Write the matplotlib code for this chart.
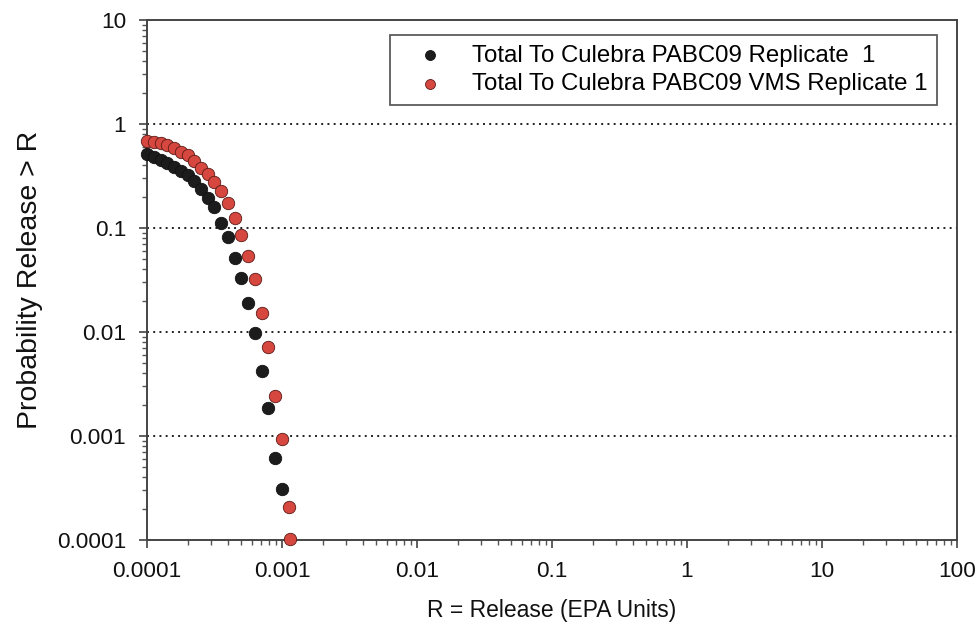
import matplotlib
matplotlib.use("Agg")
import matplotlib.pyplot as plt
from matplotlib.ticker import LogLocator, FixedLocator, FixedFormatter, NullFormatter

plt.rcParams['font.family'] = ['Liberation Sans', 'DejaVu Sans']

# Release values (EPA units) and exceedance probabilities
black_x = [1.00e-4, 1.12e-4, 1.26e-4, 1.41e-4, 1.58e-4, 1.78e-4, 2.00e-4, 2.24e-4,
           2.51e-4, 2.82e-4, 3.16e-4, 3.55e-4, 3.98e-4, 4.47e-4, 5.01e-4, 5.62e-4,
           6.31e-4, 7.08e-4, 7.94e-4, 8.91e-4, 1.00e-3]
black_y = [0.520, 0.482, 0.451, 0.421, 0.386, 0.353, 0.324, 0.283,
           0.237, 0.194, 0.159, 0.112, 0.0818, 0.0515, 0.0330, 0.0190,
           0.00977, 0.00422, 0.00186, 0.000614, 0.000309]

red_x = [1.00e-4, 1.12e-4, 1.26e-4, 1.41e-4, 1.58e-4, 1.78e-4, 2.00e-4, 2.24e-4,
         2.51e-4, 2.82e-4, 3.16e-4, 3.55e-4, 3.98e-4, 4.47e-4, 5.01e-4, 5.62e-4,
         6.31e-4, 7.08e-4, 7.94e-4, 8.91e-4, 1.00e-3, 1.12e-3, 1.15e-3]
red_y = [0.687, 0.671, 0.650, 0.628, 0.587, 0.544, 0.504, 0.440,
         0.378, 0.334, 0.277, 0.227, 0.174, 0.125, 0.0858, 0.0538,
         0.0324, 0.0152, 0.00718, 0.00243, 0.000935, 0.000207, 0.000102]

series_labels = ["Total To Culebra PABC09 Replicate  1",
                 "Total To Culebra PABC09 VMS Replicate 1"]

x_ticks = [1e-4, 1e-3, 1e-2, 1e-1, 1, 10, 100]
x_tick_labels = ["0.0001", "0.001", "0.01", "0.1", "1", "10", "100"]
y_ticks = [1e-4, 1e-3, 1e-2, 1e-1, 1, 10]
y_tick_labels = ["0.0001", "0.001", "0.01", "0.1", "1", "10"]

fig = plt.figure(figsize=(9.8, 6.31), dpi=100)
ax = fig.add_axes([0.15, 0.1442, 0.8265, 0.8241])

ax.set_xscale('log')
ax.set_yscale('log')
ax.set_xlim(1e-4, 100)
ax.set_ylim(1e-4, 10)

# grid lines (dotted horizontal)
for g in [1e-3, 1e-2, 1e-1, 1]:
    ax.axhline(g, color='#222222', linestyle=(0, (1, 2.2)), linewidth=1.4, zorder=1)

ax.scatter(black_x, black_y, s=80, color='#1c1c1c', edgecolors='#111111',
           linewidths=0.6, zorder=3, label=series_labels[0], clip_on=False)
ax.scatter(red_x, red_y, s=80, color='#d6473f', edgecolors='#5a1a16',
           linewidths=0.6, zorder=4, label=series_labels[1], clip_on=False)

ax.xaxis.set_major_locator(FixedLocator(x_ticks))
ax.xaxis.set_major_formatter(FixedFormatter(x_tick_labels))
ax.yaxis.set_major_locator(FixedLocator(y_ticks))
ax.yaxis.set_major_formatter(FixedFormatter(y_tick_labels))
ax.xaxis.set_minor_locator(LogLocator(base=10, subs=range(2, 10), numticks=100))
ax.yaxis.set_minor_locator(LogLocator(base=10, subs=range(2, 10), numticks=100))
ax.xaxis.set_minor_formatter(NullFormatter())
ax.yaxis.set_minor_formatter(NullFormatter())

ax.tick_params(which='major', direction='out', length=6, width=1.2, color='#444444',
               labelsize=16.2, pad=9, labelcolor='#111111')
ax.tick_params(which='minor', direction='out', length=3.5, width=1.0, color='#555555')

for sp in ax.spines.values():
    sp.set_color('#444444')
    sp.set_linewidth(1.4)

ax.set_xlabel("R = Release (EPA Units)", fontsize=16.5, color='#111111', labelpad=12)
ax.set_ylabel("Probability Release > R", fontsize=20.5, color='#111111', labelpad=10)

leg = ax.legend(loc='upper right', bbox_to_anchor=(0.975, 0.971), fontsize=17.3,
                frameon=True, fancybox=False, edgecolor='#333333',
                handlelength=2.5, handletextpad=0.5, borderpad=0.4,
                labelspacing=0.27, borderaxespad=0.0, markerscale=0.8)
leg.get_frame().set_linewidth(1.3)

fig.savefig("out.png", dpi=100)
